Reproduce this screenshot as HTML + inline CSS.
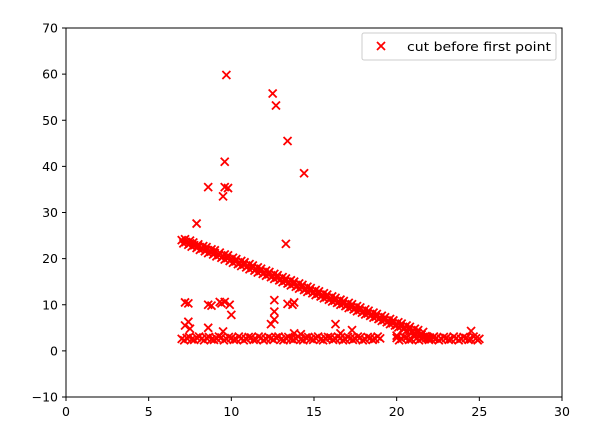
<!DOCTYPE html>
<html><head><meta charset="utf-8"><style>
body{margin:0;background:#fff}
svg{display:block;font-family:"DejaVu Sans","Liberation Sans",sans-serif}
</style></head><body>
<svg id="chart" width="602" height="439" xmlns="http://www.w3.org/2000/svg">
<rect width="602" height="439" fill="#fff"/>
<g id="marks"></g>
<rect x="66" y="28" width="496" height="369" fill="none" stroke="#000" stroke-width="1"/>
<g id="axes"></g>
<g>
<rect x="362" y="33" width="194" height="27" rx="2" fill="#fff" stroke="#ccc"/>
<g stroke="#f00" stroke-width="1.8"><line x1="377" y1="42" x2="385" y2="50"/><line x1="377" y1="50" x2="385" y2="42"/></g>
<text x="407" y="51" font-size="12.5" textLength="144" lengthAdjust="spacingAndGlyphs">cut before first point</text>
</g>
</svg>
<script>
const xTicks=[0,5,10,15,20,25,30];
const yTicks=[-10,0,10,20,30,40,50,60,70];
const diagX=[7.0,7.25,7.5,7.75,8.0,8.25,8.5,8.75,9.0,9.25,9.5,9.75,10.0,10.25,10.5,10.75,11.0,11.25,11.5,11.75,12.0,12.25,12.5,12.75,13.0,13.25,13.5,13.75,14.0,14.25,14.5,14.75,15.0,15.25,15.5,15.75,16.0,16.25,16.5,16.75,17.0,17.25,17.5,17.75,18.0,18.25,18.5,18.75,19.0,19.25,19.5,19.75,20.0,20.25,20.5,20.75,21.0,21.25,21.5,21.75,22.0,
7.1,7.4,7.6,7.9,8.1,8.4,8.6,8.9,9.1,9.4,9.6,9.9,10.1,10.4,10.6,10.9,11.1,11.4,11.6,11.9,12.1,12.4,12.6,12.9,13.1,13.4,13.6,13.9,14.1,14.4,14.6,14.9,15.1,15.4,15.6,15.9,16.1,16.4,16.6,16.9,17.1,17.4,17.6,17.9,18.1,18.4,18.6,18.9,19.1,19.4,19.6,19.9,20.1,20.4,20.6,20.9,21.1,21.4,21.6,21.9,
7.2,7.5,7.7,8.0,8.3,8.5,8.8,9.0,9.3,9.6,9.8,10.1,10.3,10.6,10.8,11.1,11.3,11.6,11.8,12.1,12.3,12.6,12.8,13.1,13.3,13.6,13.8,14.1,14.3,14.6,14.8,15.1,15.3,15.6,15.8,16.1,16.3,16.6,16.8,17.1,17.3,17.6,17.8,18.1,18.3,18.6,18.8,19.1,19.3,19.6,19.8,20.1,20.3,20.6,20.8,21.1,21.3,21.6,22.2,22.4];
const diagY=[24.0,23.6,23.3,22.9,22.6,22.2,21.9,21.5,21.2,20.8,20.5,20.1,19.8,19.4,19.0,18.7,18.4,18.0,17.7,17.3,16.9,16.6,16.2,15.9,15.5,15.2,14.8,14.5,14.1,13.8,13.4,13.1,12.7,12.4,12.0,11.6,11.3,10.9,10.6,10.2,9.9,9.5,9.2,8.8,8.5,8.1,7.8,7.4,7.1,6.7,6.4,6.0,5.6,5.3,4.9,4.6,4.2,3.9,3.5,3.2,2.9,
23.3,23.0,22.6,22.3,21.9,21.6,21.2,20.9,20.5,20.2,19.8,19.5,19.1,18.8,18.4,18.1,17.7,17.4,17.0,16.7,16.3,16.0,15.6,15.3,14.9,14.6,14.2,13.9,13.5,13.2,12.8,12.5,12.1,11.8,11.4,11.1,10.7,10.4,10.0,9.7,9.3,9.0,8.6,8.3,7.9,7.6,7.2,6.9,6.5,6.2,5.8,5.5,5.1,4.8,4.4,4.1,3.7,3.4,3.0,2.8,
24.2,23.9,23.5,23.1,22.7,22.5,22.0,21.8,21.3,20.9,20.7,20.2,19.9,19.5,19.2,18.8,18.5,18.1,17.8,17.4,17.1,16.7,16.4,16.0,15.7,15.3,15.0,14.6,14.3,13.9,13.6,13.2,12.9,12.5,12.2,11.8,11.5,11.1,10.8,10.4,10.1,9.7,9.4,9.0,8.7,8.3,8.0,7.6,7.3,6.9,6.6,6.2,5.9,5.5,5.2,4.8,4.5,4.1,2.9,2.8];
const baseX=[7.0,7.3,7.6,7.9,8.2,8.5,8.8,9.1,9.4,9.7,10.0,10.3,10.6,10.9,11.2,11.5,11.8,12.1,12.4,12.7,13.0,13.3,13.6,13.9,14.2,14.5,14.8,15.1,15.4,15.7,16.0,16.3,16.6,16.9,17.2,17.5,17.8,18.1,18.4,18.7,19.0,20.0,20.3,20.6,20.9,21.2,21.5,21.8,22.1,22.4,22.7,23.0,23.3,23.6,23.9,24.2,24.5,24.8,25.0,
7.15,7.45,7.75,8.05,8.35,8.65,8.95,9.25,9.55,9.85,10.15,10.45,10.75,11.05,11.35,11.65,11.95,12.25,12.55,12.85,13.15,13.45,13.75,14.05,14.35,14.65,14.95,15.25,15.55,15.85,16.15,16.45,16.75,17.05,17.35,17.65,17.95,18.25,18.55,18.85,20.15,20.45,20.75,21.05,21.35,21.65,21.95,22.25,22.55,22.85,23.15,23.45,23.75,24.05,24.35,24.65,24.9];
const baseY=[2.6,2.8,2.5,2.9,2.6,2.8,2.5,2.7,2.9,2.6,2.8,2.5,2.7,2.6,2.9,2.5,2.8,2.6,2.7,2.9,2.5,2.8,2.6,2.7,2.5,2.9,2.6,2.8,2.5,2.7,2.9,2.6,2.8,2.5,2.7,2.6,2.9,2.5,2.8,2.6,2.7,2.8,2.6,2.9,2.5,2.7,2.6,2.8,2.5,2.7,2.6,2.8,2.5,2.7,2.6,2.8,2.5,2.7,2.6,
2.3,3.0,2.4,3.1,2.3,3.0,2.4,3.1,2.3,3.0,2.4,3.1,2.3,3.0,2.4,3.1,2.3,3.0,2.4,3.1,2.3,3.0,2.4,3.1,2.3,3.0,2.4,3.1,2.3,3.0,2.4,3.1,2.3,3.0,2.4,3.1,2.3,3.0,2.4,3.1,2.3,3.0,2.4,3.1,2.3,3.0,2.4,3.1,2.3,3.0,2.4,3.1,2.3,3.0,2.4,3.1,2.3];
const outX=[9.7,12.5,12.7,13.4,14.4,9.6,9.5,9.6,9.8,8.6,13.3,7.9,7.2,7.4,8.6,8.8,9.3,9.6,9.9,10.0,9.4,12.6,12.6,12.6,12.4,13.4,13.7,13.8,7.2,7.4,7.5,8.6,9.5,17.3,16.3,16.6,20.0,24.5,13.8,14.2];
const outY=[59.8,55.8,53.2,45.5,38.5,41.0,33.5,35.5,35.3,35.5,23.2,27.6,10.5,10.3,10.0,9.8,10.6,10.6,10.0,7.8,10.3,11.0,8.5,6.8,5.8,10.2,10.0,10.5,5.5,6.3,4.8,5.0,4.2,4.5,5.8,3.8,3.3,4.3,3.8,3.6];
const X=v=>66+(v-0)*496/30, Y=v=>397-(v+10)*369/80;
const NS="http://www.w3.org/2000/svg";
const marks=document.getElementById('marks'), axes=document.getElementById('axes');
function mk(t,a,p){const e=document.createElementNS(NS,t);for(const k in a)e.setAttribute(k,a[k]);p.appendChild(e);return e;}
function pt(x,y){const g=mk('g',{stroke:'#f00','stroke-width':1.8},marks);


const cx=X(x),cy=Y(y);mk('line',{x1:cx-4,y1:cy-4,x2:cx+4,y2:cy+4},g);mk('line',{x1:cx-4,y1:cy+4,x2:cx+4,y2:cy-4},g);}
diagX.forEach((x,i)=>pt(x,diagY[i]));
baseX.forEach((x,i)=>pt(x,baseY[i]));
outX.forEach((x,i)=>pt(x,outY[i]));
xTicks.forEach(v=>{mk('line',{x1:X(v),y1:397,x2:X(v),y2:401,stroke:'#000'},axes);
const t=mk('text',{x:X(v),y:416,'font-size':12.5,'text-anchor':'middle'},axes);t.textContent=v;

});
yTicks.forEach(v=>{mk('line',{x1:62,y1:Y(v),x2:66,y2:Y(v),stroke:'#000'},axes);
const t=mk('text',{x:58,y:Y(v)+4.5,'font-size':12.5,'text-anchor':'end'},axes);t.textContent=v===-10?'\u221210':v;

});
</script>
</body></html>
